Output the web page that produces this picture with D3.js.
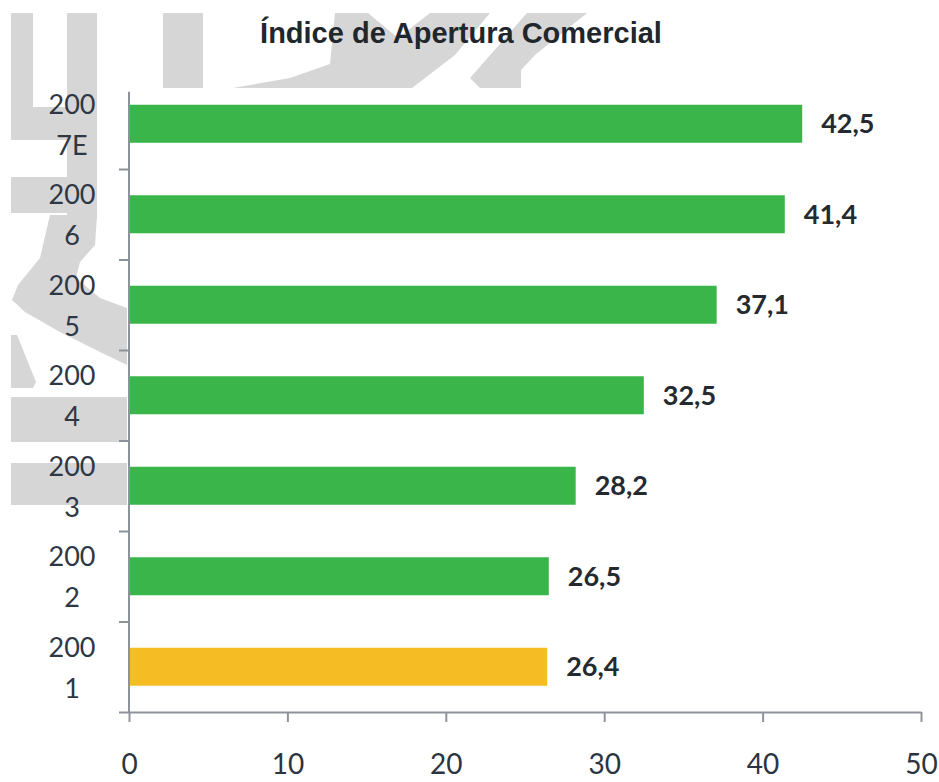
<!DOCTYPE html>
<html>
<head>
<meta charset="utf-8">
<script src="https://cdn.jsdelivr.net/npm/d3@7"></script>
<style>
  body { margin: 0; background: #fff; }
  svg { display: block; }
  .axis path, .axis line { stroke: #8e939b; stroke-width: 2; }
</style>
</head>
<body>
<div id="chart"></div>
<script>
// chart data
const title = "Índice de Apertura Comercial";
const years = ["2001", "2002", "2003", "2004", "2005", "2006", "2007E"];
const values = [26.4, 26.5, 28.2, 32.5, 37.1, 41.4, 42.5];
const xTicks = [0, 10, 20, 30, 40, 50];
const highlightYear = "2001";

const width = 939, height = 782;
const margin = { top: 78.5, right: 18, bottom: 70, left: 129 };

const svg = d3.select("#chart")
    .append("svg")
    .attr("width", width)
    .attr("height", height);

// faint watermark behind the chart (part of the source image)
const wm = svg.append("g").attr("fill", "#d6d6d6");
[[11, 13, 22, 127], [33, 107, 64, 33], [67, 13, 30, 207], [11, 177, 86, 36],
 [11, 397, 116, 45], [11, 463, 116, 42], [163, 13, 40, 75]].forEach(r => {
    wm.append("rect").attr("x", r[0]).attr("y", r[1]).attr("width", r[2]).attr("height", r[3]);
});
[
  [[50,215],[97,215],[95,245],[80,262],[76,278],[100,298],[127,308],[127,365],[100,352],[60,332],[25,312],[12,300],[18,285],[40,258]],
  [[11,335],[17,335],[36,382],[33,388],[11,388]],
  [[233,88],[290,78],[330,64],[335,13],[368,13],[398,38],[430,13],[490,13],[455,55],[412,88]],
  [[527,13],[587,13],[535,55],[521,70],[521,88],[480,88],[470,78]]
].forEach(p => {
    wm.append("polygon").attr("points", p.map(d => d.join(",")).join(" "));
});

// scales
const x = d3.scaleLinear()
    .domain([0, 50])
    .range([margin.left, width - margin.right]);

const y = d3.scaleBand()
    .domain(years)
    .range([height - margin.bottom, margin.top])
    .paddingInner(0.58)
    .paddingOuter(0.29);

// band boundaries for the category tick marks
const yEdges = d3.scaleLinear()
    .domain([0, years.length])
    .range([height - margin.bottom, margin.top]);

const fmt = d3.formatLocale({ decimal: ",", thousands: ".", grouping: [3], currency: ["", ""] }).format(".1f");

// title
svg.append("text")
    .attr("x", 461)
    .attr("y", 43)
    .attr("text-anchor", "middle")
    .attr("font-family", "Liberation Sans, Arial, sans-serif")
    .attr("font-weight", "bold")
    .attr("font-size", 29)
    .attr("fill", "#1f262c")
    .text(title);

// bars
svg.append("g")
    .selectAll("rect")
    .data(years)
    .join("rect")
    .attr("x", x(0))
    .attr("y", d => y(d))
    .attr("width", (d, i) => x(values[i]) - x(0))
    .attr("height", y.bandwidth())
    .attr("fill", d => d === highlightYear ? "#f6bc24" : "#39b54a");

// value labels
svg.append("g")
    .selectAll("text")
    .data(years)
    .join("text")
    .attr("x", (d, i) => x(values[i]) + 19)
    .attr("y", d => y(d) + y.bandwidth() / 2)
    .attr("dy", "0.35em")
    .attr("font-family", "Lato, sans-serif")
    .attr("font-weight", "bold")
    .attr("font-size", 27)
    .attr("fill", "#252a30")
    .text((d, i) => fmt(values[i]));

// x axis
const xAxis = svg.append("g")
    .attr("class", "axis")
    .attr("transform", `translate(0,${height - margin.bottom})`)
    .call(d3.axisBottom(x).tickValues(xTicks).tickSize(10).tickSizeOuter(0));
xAxis.selectAll("text")
    .attr("y", 62)
    .attr("dy", 0)
    .attr("font-family", "Lato, sans-serif")
    .attr("font-size", 28)
    .attr("fill", "#2c3440");

// y axis (ticks between categories, none at the very top)
const yAxis = svg.append("g")
    .attr("class", "axis")
    .attr("transform", `translate(${margin.left},0)`)
    .call(d3.axisLeft(yEdges).tickValues(d3.range(0, years.length)).tickSize(10).tickSizeOuter(0).tickFormat(""));
yAxis.select(".domain")
    .attr("d", `M0,${yEdges(0)}V${y(years[years.length - 1]) - 13}`);

// category labels, wrapped like the original ("200" / rest)
const cat = svg.append("g")
    .selectAll("text")
    .data(years)
    .join("text")
    .attr("x", 72)
    .attr("y", d => y(d) + y.bandwidth() / 2)
    .attr("text-anchor", "middle")
    .attr("font-family", "Lato, sans-serif")
    .attr("font-size", 27)
    .attr("fill", "#2e3744");
cat.append("tspan").attr("x", 72).attr("dy", -10).text(d => d.slice(0, 3));
cat.append("tspan").attr("x", 72).attr("dy", 41).text(d => d.slice(3));
</script>
</body>
</html>
